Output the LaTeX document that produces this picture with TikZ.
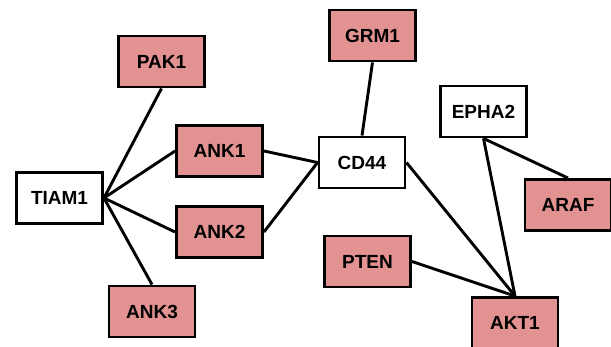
\documentclass[tikz,border=0pt]{standalone}
\usepackage{fontspec}
\setmainfont{Liberation Sans}

\begin{document}
\begin{tikzpicture}[x=1pt, y=-1pt,
    gene/.style={draw, line width=2.9pt, minimum width=86pt, minimum height=51pt,
      inner sep=0pt, font=\fontsize{19}{22}\selectfont\bfseries},
    hit/.style={gene, fill=genered},
    link/.style={line width=2.9pt}]
      \definecolor{genered}{RGB}{226,146,145}
      \useasboundingbox (0,0) rectangle (611,347);
      \node[gene] (tiam) at (59.5,198) {TIAM1};
      \node[hit] (pak) at (161.5,61.5) {PAK1};
      \node[hit] (ank1) at (219.5,151) {ANK1};
      \node[hit] (ank2) at (219.5,232) {ANK2};
      \node[hit] (ank3) at (152,311.5) {ANK3};
      \node[hit] (grm) at (372.5,35.5) {GRM1};
      \node[gene] (cd) at (362,162.5) {CD44};
      \node[gene] (epha) at (483.5,111.5) {EPHA2};
      \node[hit] (araf) at (568,205) {ARAF};
      \node[hit] (pten) at (367.5,261.5) {PTEN};
      \node[hit] (akt) at (515,323) {AKT1};
      \draw[link] (tiam.east) -- (pak.south);
      \draw[link] (tiam.east) -- (ank1.west);
      \draw[link] (tiam.east) -- (ank2.west);
      \draw[link] (tiam.east) -- (ank3.north);
      \draw[link] (ank1.east) -- (cd.west);
      \draw[link] (ank2.east) -- (cd.west);
      \draw[link] (grm.south) -- (cd.north);
      \draw[link] (cd.east) -- (akt.north);
      \draw[link] (pten.east) -- (akt.north);
      \draw[link] (epha.south) -- (akt.north);
      \draw[link] (epha.south) -- (araf.north);
    \end{tikzpicture}
\end{document}
